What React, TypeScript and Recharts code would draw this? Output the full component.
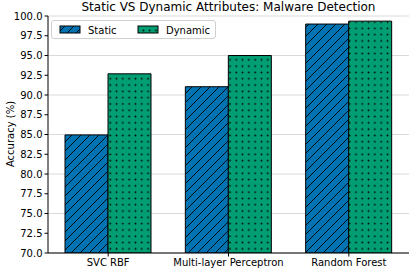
import { Bar, BarChart, CartesianGrid, XAxis, YAxis } from "recharts"

const models = ["SVC RBF", "Multi-layer Perceptron", "Random Forest"]
const staticAcc = [84.95, 91.05, 98.98]
const dynamicAcc = [92.68, 95.0, 99.35]
const yTicks = [70, 72.5, 75, 77.5, 80, 82.5, 85, 87.5, 90, 92.5, 95, 97.5, 100]

const BLUE = "#0173b2"
const GREEN = "#029e73"
const FONT = "'DejaVu Sans', sans-serif"

const data = models.map((name, i) => ({ name, static: staticAcc[i], dynamic: dynamicAcc[i] }))

function Patterns({ suffix }: { suffix: string }) {
  return (
    <defs>
      <pattern id={`hatch${suffix}`} patternUnits="userSpaceOnUse" width="9" height="9">
        <rect width="9" height="9" fill={BLUE} />
        <path d="M0,9 L9,0 M-2,2 L2,-2 M7,11 L11,7" stroke="#000" strokeWidth="0.9" />
      </pattern>
      <pattern id={`dots${suffix}`} patternUnits="userSpaceOnUse" width="6.3" height="6.3">
        <rect width="6.3" height="6.3" fill={GREEN} />
        <circle cx="3.15" cy="3.15" r="0.9" fill="#000" />
      </pattern>
    </defs>
  )
}

function LegendBox() {
  return (
    <div
      style={{
        position: "absolute",
        left: 51,
        top: 20,
        border: "1px solid #d0d0d0",
        borderRadius: 3,
        background: "rgba(255,255,255,0.8)",
        width: 163,
        height: 17,
      }}
    >
      <svg width="163" height="17" style={{ display: "block" }}>
        <Patterns suffix="L" />
        <rect x="8" y="5" width="20" height="7" fill="url(#hatchL)" stroke="#000" />
        <text x="36" y="12.5" fontSize="10" fontFamily={FONT}>Static</text>
        <rect x="86" y="5" width="20" height="7" fill="url(#dotsL)" stroke="#000" />
        <text x="114" y="12.5" fontSize="10" fontFamily={FONT}>Dynamic</text>
      </svg>
    </div>
  )
}

const tickStyle = { fontSize: 10, fill: "#000", fontFamily: FONT }

export default function App() {
  return (
    <div style={{ position: "absolute", left: 0, top: 0, width: 415, height: 270, background: "#fff" }}>
      <div
        style={{
          position: "absolute",
          left: 48,
          width: 361,
          top: 0,
          textAlign: "center",
          fontFamily: FONT,
          fontSize: 12,
          lineHeight: "15px",
        }}
      >
        Static VS Dynamic Attributes: Malware Detection
      </div>
      <div
        style={{
          position: "absolute",
          left: 10,
          top: 134,
          transform: "translate(-50%, -50%) rotate(-90deg)",
          fontFamily: FONT,
          fontSize: 10,
          whiteSpace: "nowrap",
        }}
      >
        Accuracy (%)
      </div>
      <BarChart
        width={415}
        height={270}
        data={data}
        margin={{ top: 16, right: 6, bottom: 0, left: 0 }}
        barSize={43}
        barGap={0}
        style={{ fontFamily: FONT }}
      >
        <Patterns suffix="C" />
        <CartesianGrid vertical={false} stroke="#d0d0d0" strokeWidth={0.8} />
        <XAxis
          dataKey="name"
          height={17}
          tick={tickStyle}
          tickLine={{ stroke: "#000" }}
          tickSize={3.5}
          axisLine={{ stroke: "#000" }}
          interval={0}
        />
        <XAxis
          xAxisId="top"
          dataKey="name"
          orientation="top"
          height={0}
          tick={false}
          tickLine={false}
          axisLine={{ stroke: "#000" }}
        />
        <YAxis
          domain={[70, 100]}
          ticks={yTicks}
          allowDataOverflow
          width={48}
          tick={tickStyle}
          tickLine={{ stroke: "#000" }}
          tickSize={3.5}
          tickFormatter={(v: number) => v.toFixed(1)}
          axisLine={{ stroke: "#000" }}
        />
        <YAxis
          yAxisId="right"
          orientation="right"
          domain={[70, 100]}
          width={0}
          tick={false}
          tickLine={false}
          axisLine={{ stroke: "#000" }}
        />
        <Bar dataKey="static" name="Static" fill="url(#hatchC)" stroke="#000" strokeWidth={1} isAnimationActive={false} />
        <Bar dataKey="dynamic" name="Dynamic" fill="url(#dotsC)" stroke="#000" strokeWidth={1} isAnimationActive={false} />
      </BarChart>
      <LegendBox />
    </div>
  )
}
